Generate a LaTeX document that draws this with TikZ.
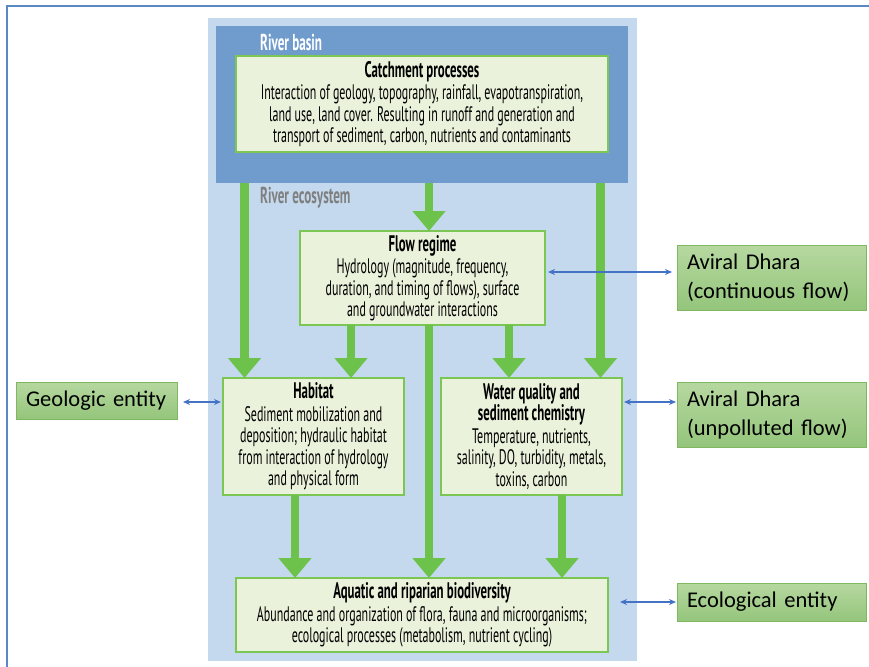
\documentclass[tikz,border=0pt]{standalone}
\usepackage{fontspec}
\usetikzlibrary{arrows.meta}
\newfontfamily\condfont[FakeStretch=0.57]{PT Sans}
\newfontfamily\calfont{Carlito}
\newcommand{\boxhead}[1]{{\fontsize{22.5}{24}\selectfont\bfseries #1}}

\definecolor{frameblue}{HTML}{5A87C5}
\definecolor{ecoblue}{HTML}{C4D9EE}
\definecolor{basinblue}{HTML}{6F9BCD}
\definecolor{boxfill}{HTML}{EBF2DB}
\definecolor{boxline}{HTML}{7CC653}
\definecolor{arrowgreen}{HTML}{6CC24A}
\definecolor{linkblue}{HTML}{4472C4}
\definecolor{tagtop}{HTML}{B6D8A0}
\definecolor{tagbottom}{HTML}{94C57B}
\definecolor{tagline}{HTML}{80B862}
\definecolor{ecogray}{HTML}{7F7F7F}

\tikzset{
  zone/.style={inner sep=0pt, outer sep=0pt},
  procbox/.style={draw=boxline, line width=1.3pt, fill=boxfill, align=center,
    inner sep=0pt, outer sep=0pt,
    font=\condfont\fontsize{21}{21.5}\selectfont},
  tagbox/.style={draw=tagline, line width=0.8pt, top color=tagtop, bottom color=tagbottom,
    align=left, inner xsep=10pt, inner ysep=0pt, outer sep=0pt,
    font=\calfont\fontsize{22.5}{29}\selectfont},
  zonelabel/.style={anchor=west, inner sep=0pt, font=\condfont\bfseries\fontsize{23}{24}\selectfont},
  flowarrow/.style={draw=arrowgreen, line width=8.5pt,
    -{Triangle[width=32pt,length=20pt,fill=arrowgreen]}},
  link/.style={draw=linkblue, line width=1.2pt,
    {Stealth[length=7pt,width=6pt]}-{Stealth[length=7pt,width=6pt]}}
}

\begin{document}
\begin{tikzpicture}[x=1pt,y=-1pt]
\useasboundingbox (0,0) rectangle (869,666);
\clip (0,0) rectangle (869,666);

% outer frame
\draw[frameblue, line width=2pt] (7,6) rectangle (890,690);

% nested zones
\node[zone, fill=ecoblue, minimum width=429pt, minimum height=643pt] (eco) at (422.5,339.5) {};
\node[zone, fill=basinblue, minimum width=412pt, minimum height=157pt] (basin) at (422,104.5) {};
\node[zonelabel, text=white] (basinlbl) at (260,42) {River basin};
\node[zonelabel, text=ecogray] (ecolbl) at (260,198) {River ecosystem};

% process boxes
\node[procbox, minimum width=372pt, minimum height=96pt] (catch) at (422,104)
  {\boxhead{Catchment processes}\\[1pt]
   Interaction of geology, topography, rainfall, evapotranspiration,\\
   land use, land cover. Resulting in runoff and generation and\\
   transport of sediment, carbon, nutrients and contaminants};
\node[procbox, minimum width=245pt, minimum height=94pt] (flow) at (422.5,278)
  {\boxhead{Flow regime}\\[1pt]
   Hydrology (magnitude, frequency,\\
   duration, and timing of flows), surface\\
   and groundwater interactions};
\node[procbox, minimum width=181pt, minimum height=117pt] (hab) at (313.5,436.5)
  {\boxhead{Habitat}\\[1pt]
   Sediment mobilization and\\
   deposition; hydraulic habitat\\
   from interaction of hydrology\\
   and physical form};
\node[procbox, minimum width=181pt, minimum height=117pt] (wq) at (531.5,436.5)
  {\boxhead{Water quality and}\\
   \boxhead{sediment chemistry}\\[1pt]
   Temperature, nutrients,\\
   salinity, DO, turbidity, metals,\\
   toxins, carbon};
\node[procbox, minimum width=372pt, minimum height=74pt] (bio) at (422,615)
  {\boxhead{Aquatic and riparian biodiversity}\\[1pt]
   Abundance and organization of flora, fauna and microorganisms;\\
   ecological processes (metabolism, nutrient cycling)};

% entity tags
\node[tagbox, text width=141pt, minimum height=37pt] (geo) at (96.5,400.5) {Geologic entity};
\node[tagbox, text width=169pt, minimum height=65pt] (av1) at (771.5,277.5) {Aviral Dhara\\(continuous flow)};
\node[tagbox, text width=169pt, minimum height=65pt] (av2) at (771.5,414.5) {Aviral Dhara\\(unpolluted flow)};
\node[tagbox, text width=169pt, minimum height=38pt] (ecoent) at (771.5,602) {Ecological entity};

% x positions of the green flow arrows
\coordinate (xL) at (244.5,0);
\coordinate (xC) at (429,0);
\coordinate (xR) at (600.5,0);
\coordinate (xF1) at (351,0);
\coordinate (xF2) at (509,0);
\coordinate (xH) at (295,0);
\coordinate (xW) at (562,0);

\draw[flowarrow] (xL |- basin.south) -- (xL |- hab.north);
\draw[flowarrow] (xC |- basin.south) -- (xC |- flow.north);
\draw[flowarrow] (xR |- basin.south) -- (xR |- wq.north);
\draw[flowarrow] (xF1 |- flow.south) -- (xF1 |- hab.north);
\draw[flowarrow] (xF2 |- flow.south) -- (xF2 |- wq.north);
\draw[flowarrow] (xC |- flow.south) -- (xC |- bio.north);
\draw[flowarrow] (xH |- hab.south) -- (xH |- bio.north);
\draw[flowarrow] (xW |- wq.south) -- (xW |- bio.north);

% heights of the blue links
\coordinate (yA) at (0,272);
\coordinate (yB) at (0,402);
\coordinate (yC) at (0,602);

\draw[link, shorten <=3pt, shorten >=5pt] (flow.east |- yA) -- (av1.west |- yA);
\draw[link, shorten <=6pt, shorten >=2pt] (geo.east |- yB) -- (hab.west |- yB);
\draw[link, shorten <=2pt, shorten >=1pt] (wq.east |- yB) -- (av2.west |- yB);
\draw[link, shorten <=12pt, shorten >=1pt] (bio.east |- yC) -- (ecoent.west |- yC);
\end{tikzpicture}
\end{document}
